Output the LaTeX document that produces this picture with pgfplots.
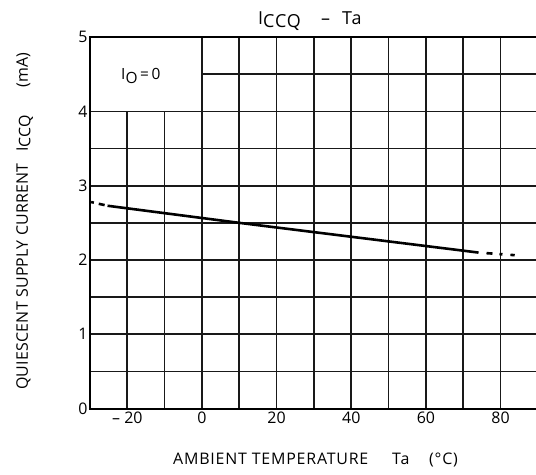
\documentclass[border=0pt]{standalone}
\usepackage{fontspec}
\setmainfont{Open Sans}
\newfontfamily\labf[LetterSpace=5]{Open Sans}
\newfontfamily\ylabf[LetterSpace=1.5]{Open Sans}
\usepackage{pgfplots}
\pgfplotsset{compat=1.18}
\begin{document}
\begin{tikzpicture}
\begin{axis}[
  scale only axis, width=446bp, height=371.5bp,
  xmin=-30, xmax=89.5, ymin=0, ymax=5,
  clip=false,
  axis line style={draw=none},
  major tick length=0pt,
  xtick={-20,0,20,40,60,80},
  xticklabels={– 20,0,20,40,60,80},
  ytick={0,1,2,3,4,5},
  yticklabels={0,1,2,3,4,5},
  tick label style={font=\fontsize{16}{18}\selectfont, text=black},
  yticklabel style={xshift=1bp},
  gridl/.style={black!90, line width=1.7bp, forget plot},
  bord/.style={black, line width=2bp, forget plot},
]
% horizontal grid lines
\pgfplotsinvokeforeach{0.5,1,1.5,2,2.5,3,3.5,4}{
  \addplot[gridl] coordinates {(-30,#1) (90,#1)};
}
\addplot[gridl] coordinates {(0,4.5) (90,4.5)};
% vertical grid lines
\pgfplotsinvokeforeach{-20,-10}{
  \addplot[gridl] coordinates {(#1,0) (#1,4)};
}
\pgfplotsinvokeforeach{0,10,20,30,40,50,60,70,80}{
  \addplot[gridl] coordinates {(#1,0) (#1,5)};
}
% borders
\addplot[bord] coordinates {(-30,5) (90,5)};
\addplot[bord] coordinates {(-30,0) (90,0)};
\addplot[bord] coordinates {(-30,-0.013) (-30,5.013)};
% curve
\addplot[black, line width=2.6bp, line cap=butt] coordinates {(-25.3,2.73) (10,2.50) (74.1,2.10)};
\addplot[black, line width=2.6bp, line cap=butt, dash pattern=on 0bp off 3bp on 6bp off 5bp on 3bp off 30bp] coordinates {(-25.3,2.73) (-29.7,2.78)};
\addplot[black, line width=2.6bp, line cap=butt, dash pattern=on 0bp off 8bp on 6bp off 7bp on 3bp off 8bp on 5bp off 30bp] coordinates {(74.1,2.10) (83.8,2.065)};
\coordinate (O) at (axis cs:-30,0);
\end{axis}
\pgfresetboundingbox
\path[use as bounding box] ([shift={(-90bp,-66.4bp)}]O) rectangle ([shift={(446bp,408.6bp)}]O);
% title
\node[anchor=base west, inner sep=0pt, font=\labf\fontsize{18}{20}\selectfont] at ([shift={(168bp,383.6bp)}]O) {I\raisebox{-2.5bp}{CCQ}};
\node[anchor=base west, inner sep=0pt, font=\labf\fontsize{18}{20}\selectfont] at ([shift={(231bp,383.6bp)}]O) {–};
\node[anchor=base west, inner sep=0pt, font=\labf\fontsize{18}{20}\selectfont] at ([shift={(252bp,383.6bp)}]O) {Ta};
% I_O = 0
\node[anchor=base west, inner sep=0pt, font=\fontsize{15.5}{17}\selectfont] at ([shift={(31bp,328.6bp)}]O) {I\raisebox{-3.5bp}{O}\,=\,0};
% y label
\node[rotate=90, anchor=base west, inner sep=0pt, font=\ylabf\fontsize{16}{18}\selectfont] at ([shift={(-62bp,18.6bp)}]O) {QUIESCENT SUPPLY CURRENT};
\node[rotate=90, anchor=base west, inner sep=0pt, font=\ylabf\fontsize{16}{18}\selectfont] at ([shift={(-62bp,256.6bp)}]O) {I\raisebox{-2.5bp}{CCQ}};
\node[rotate=90, anchor=base west, inner sep=0pt, font=\ylabf\fontsize{16}{18}\selectfont] at ([shift={(-62bp,320.6bp)}]O) {(mA)};
% x label
\node[anchor=base west, inner sep=0pt, font=\labf\fontsize{16}{18}\selectfont] at ([shift={(83bp,-55.4bp)}]O) {AMBIENT TEMPERATURE};
\node[anchor=base west, inner sep=0pt, font=\labf\fontsize{16}{18}\selectfont] at ([shift={(302bp,-55.4bp)}]O) {Ta};
\node[anchor=base west, inner sep=0pt, font=\labf\fontsize{16}{18}\selectfont] at ([shift={(339bp,-55.4bp)}]O) {(°C)};
\end{tikzpicture}
\end{document}
